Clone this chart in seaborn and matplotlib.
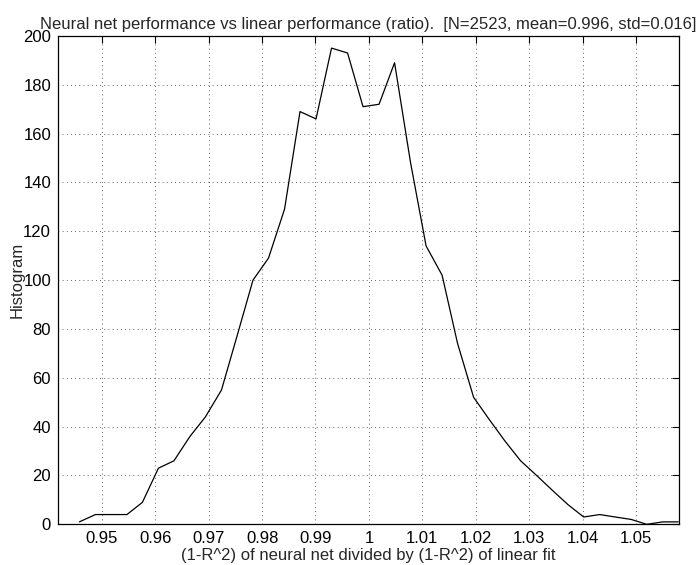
import matplotlib
matplotlib.use("Agg")
import matplotlib.pyplot as plt
import seaborn as sns
import pandas as pd

# bin centres of the ratio histogram
ratio = [0.9458, 0.9488, 0.9517, 0.9547, 0.9576, 0.9606, 0.9635, 0.9665, 0.9694, 0.9724,
         0.9753, 0.9783, 0.9812, 0.9842, 0.9871, 0.9901, 0.9930, 0.9960, 0.9989, 1.0019,
         1.0048, 1.0078, 1.0107, 1.0137, 1.0166, 1.0196, 1.0225, 1.0255, 1.0284, 1.0314,
         1.0343, 1.0373, 1.0402, 1.0432, 1.0461, 1.0491, 1.0520, 1.0550, 1.0579]
counts = [1, 4, 4, 4, 9, 23, 26, 36, 44, 55,
          77, 100, 109, 129, 169, 166, 195, 193, 171, 172,
          189, 148, 114, 102, 74, 52, 43, 34, 26, 20,
          14, 8, 3, 4, 3, 2, 0, 1, 1]
xticks = [0.95, 0.96, 0.97, 0.98, 0.99, 1.00, 1.01, 1.02, 1.03, 1.04, 1.05]
xticklabels = ["0.95", "0.96", "0.97", "0.98", "0.99", "1", "1.01", "1.02", "1.03", "1.04", "1.05"]
yticks = [0, 20, 40, 60, 80, 100, 120, 140, 160, 180, 200]

df = pd.DataFrame({"ratio": ratio, "count": counts})

sns.set_style("white")
plt.rcParams["font.family"] = ["Liberation Sans", "DejaVu Sans"]

fig = plt.figure(figsize=(6.99, 5.65), dpi=100)
ax = fig.add_axes([0.083, 0.072, 0.8888, 0.8645])

sns.lineplot(data=df, x="ratio", y="count", ax=ax, color="black", linewidth=0.9)

ax.set_xlim(0.9418, 1.0581)
ax.set_ylim(0, 200)
ax.set_xticks(xticks)
ax.set_xticklabels(xticklabels)
ax.set_yticks(yticks)
ax.grid(True, linestyle=(0, (1, 4)), color="black", linewidth=0.6, alpha=0.8)
ax.tick_params(direction="in", top=True, right=True, length=5, width=0.8,
               labelsize=12, colors="black", pad=5)
for s in ax.spines.values():
    s.set_color("black")
    s.set_linewidth(0.9)

ax.set_xlabel("(1-R^2) of neural net divided by (1-R^2) of linear fit", fontsize=12, labelpad=1)
ax.set_ylabel("Histogram", fontsize=12, labelpad=-1)
ax.set_title("Neural net performance vs linear performance (ratio).  [N=2523, mean=0.996, std=0.016]",
             fontsize=12, pad=5)

fig.savefig("out.png", dpi=100)
